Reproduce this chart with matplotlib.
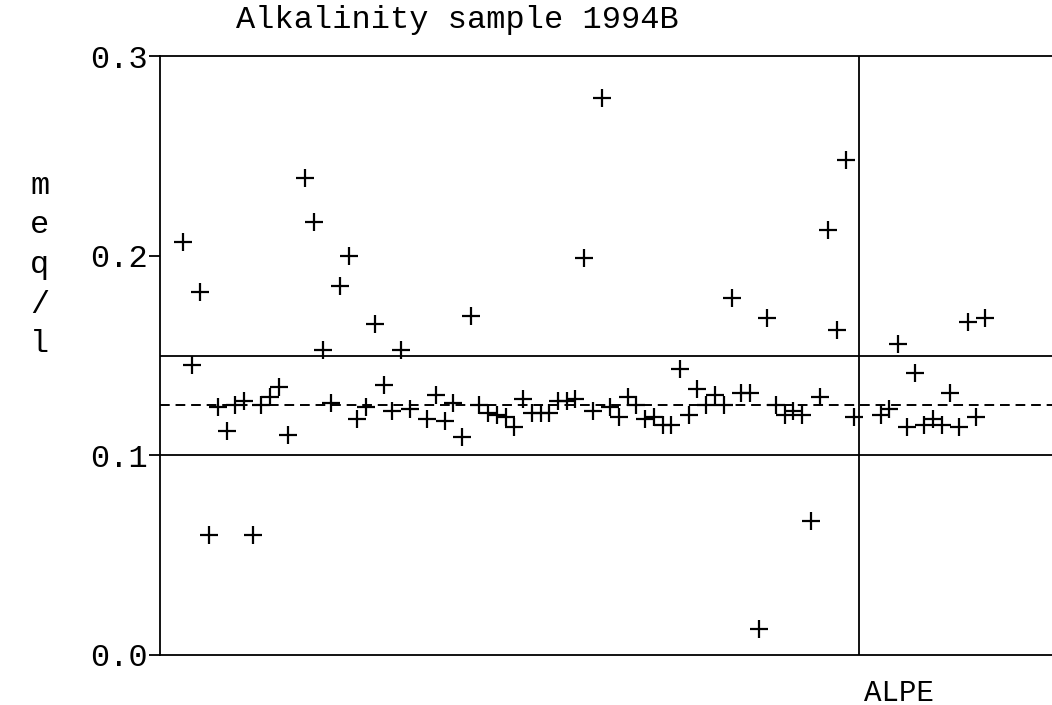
import matplotlib
matplotlib.use("Agg")
import matplotlib.pyplot as plt
import numpy as np

# ---- data ----
title = "Alkalinity sample 1994B"
ylabel_chars = ["m", "e", "q", "/", "l"]
section_label = "ALPE"

# main group: lab position index and value (meq/l)
main_pos = [0, 1, 2, 3, 4, 5, 6, 7, 8, 9, 10, 11, 12,
            14, 15, 16, 17, 18, 19, 20, 21, 22, 23, 24, 25, 26,
            28, 29, 30, 31, 32, 33, 34, 35, 36, 37, 38, 39, 40, 41, 42, 43, 44, 45,
            46, 47, 48, 49, 50, 51, 52, 53, 54, 55, 56, 57, 58, 59, 60, 61, 62, 63,
            64, 65, 66, 67, 68, 69, 70, 71, 72, 73, 74, 75, 76, 77]
main_val = [0.207, 0.145, 0.182, 0.060, 0.124, 0.112, 0.125, 0.127, 0.060, 0.125, 0.129, 0.134, 0.110,
            0.239, 0.217, 0.153, 0.126, 0.185, 0.200, 0.118, 0.124, 0.166, 0.135, 0.122, 0.153, 0.123,
            0.118, 0.130, 0.117, 0.126, 0.109, 0.170, 0.125, 0.121, 0.120, 0.119, 0.114, 0.128, 0.121, 0.121, 0.121, 0.127, 0.127, 0.128,
            0.199, 0.122, 0.279, 0.124, 0.119, 0.129, 0.125, 0.118, 0.119, 0.115, 0.115, 0.143, 0.120, 0.133, 0.125, 0.130, 0.125, 0.179,
            0.131, 0.131, 0.013, 0.169, 0.125, 0.120, 0.122, 0.120, 0.067, 0.129, 0.213, 0.163, 0.248, 0.119]

# ALPE group
alpe_pos = [80, 81, 82, 83, 84, 85, 86, 87, 88, 89, 90, 91, 92]
alpe_val = [0.120, 0.123, 0.156, 0.114, 0.141, 0.115, 0.118, 0.115, 0.131, 0.114, 0.167, 0.119, 0.169]

target = 0.125
upper_limit = 0.15
lower_limit = 0.10
separator = 77.5
yticks = [0.0, 0.1, 0.2, 0.3]
ytick_labels = ["0.0", "0.1", "0.2", "0.3"]

# ---- figure ----
W, H = 1052, 705
fig = plt.figure(figsize=(W / 100, H / 100), dpi=100)
fig.patch.set_facecolor("white")
left = 160 / W
bottom = (H - 655) / H
top = (H - 56) / H
ax = fig.add_axes([left, bottom, 1.0 - left + 0.002, top - bottom])

font = "Liberation Mono"
fs = 23

ax.axhline(upper_limit, color="black", lw=1.3)
ax.axhline(lower_limit, color="black", lw=1.3)
ax.axhline(target, color="black", lw=1.4, linestyle=(0, (5, 3)))
ax.axvline(separator, color="black", lw=1.3)

ms = 12.5
ax.plot(main_pos, main_val, linestyle="none", marker="+", color="black",
        markersize=ms, markeredgewidth=1.6)
ax.plot(alpe_pos, alpe_val, linestyle="none", marker="+", color="black",
        markersize=ms, markeredgewidth=1.6)

ax.set_xlim(-2.64, 99.9)
ax.set_ylim(0.0, 0.3)

ax.set_xticks([])
ax.set_yticks(yticks)
ax.set_yticklabels(ytick_labels, fontfamily=font, fontsize=fs)
ax.tick_params(axis="y", direction="out", length=8, width=1.3, pad=1, color="black")

for s in ["left", "bottom", "top"]:
    ax.spines[s].set_linewidth(1.3)
    ax.spines[s].set_color("black")
ax.spines["right"].set_visible(False)

# section label below axis
ax.text(separator + 0.6, 1 - 693 / H, section_label, fontfamily=font, fontsize=fs - 2,
        ha="left", va="center", transform=ax.get_xaxis_transform().__class__(ax.transData, fig.transFigure))

# title
fig.text(457 / W, 1 - 20 / H, title, fontfamily=font, fontsize=fs,
         ha="center", va="center")

# vertical y label
fig.text(40 / W, 1 - 265 / H, "\n".join(ylabel_chars), fontfamily=font, fontsize=fs,
         ha="center", va="center", linespacing=1.42)

fig.savefig("out.png", dpi=100, facecolor="white")
